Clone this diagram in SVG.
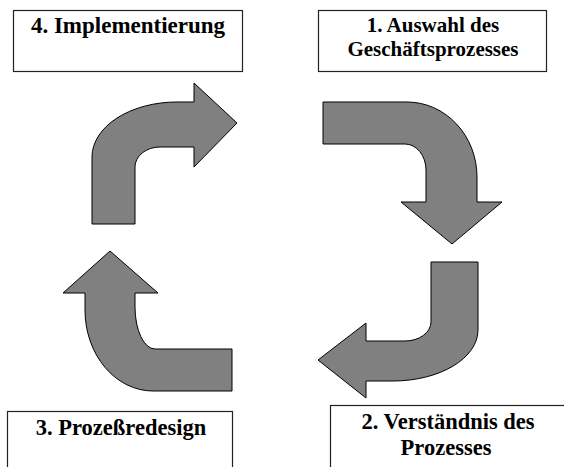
<svg xmlns="http://www.w3.org/2000/svg" width="564" height="467" viewBox="0 0 564 467">
<style>
.box{fill:#fff;stroke:#222;stroke-width:1.2}
text{font-family:"Liberation Serif",serif;font-weight:bold;fill:#000;text-anchor:middle}
.arr{fill:#808080;stroke:#000;stroke-width:1;stroke-linejoin:miter}
</style>
<rect width="564" height="467" fill="#fff"/>
<g id="node4">
<rect class="box" x="13.5" y="10.5" width="229" height="61"/>
<text x="128" y="33" font-size="23" font-family="Liberation Serif">4. Implementierung</text>
</g>
<g id="node1">
<rect class="box" x="318.5" y="10.5" width="228" height="61"/>
<text x="433" y="32" font-size="21" font-family="Liberation Serif">1. Auswahl des</text>
<text x="433" y="56" font-size="21" font-family="Liberation Serif">Geschäftsprozesses</text>
</g>
<g id="node3">
<rect class="box" x="7.5" y="411.5" width="225" height="70"/>
<text x="121" y="435" font-size="22.5" font-family="Liberation Serif">3. Prozeßredesign</text>
</g>
<g id="node2">
<rect class="box" x="330.5" y="405.5" width="240" height="70"/>
<text x="448" y="429" font-size="22.5" font-family="Liberation Serif">2. Verständnis des</text>
<text x="446" y="455" font-size="22.5" font-family="Liberation Serif">Prozesses</text>
</g>
<g id="connectors">
<path class="arr" d="M92,224 L92,157 A85,55 0 0 1 177,102 L194,102 L194,83 L237,123 L194,167 L194,147 L160,147 A25,20 0 0 0 135,167 L135,224 Z"/>
<path class="arr" d="M323,102 L407,102 A70,75 0 0 1 477,177 L477,202 L502,202 L452,244 L401,202 L426,202 L426,170 A21,26 0 0 0 405,144 L323,144 Z"/>
<path class="arr" d="M431,262 L478,262 L478,330 A85,51 0 0 1 393,381 L366,381 L366,398 L318,360 L366,323 L366,341 L405,341 A26,19 0 0 0 431,322 Z"/>
<path class="arr" d="M110,251 L158,293 L135,293 L135,307 A20,42 0 0 0 155,349 L232,349 L232,391 L153,391 A68,81 0 0 1 85,310 L85,293 L63,293 Z"/>
</g>
</svg>
